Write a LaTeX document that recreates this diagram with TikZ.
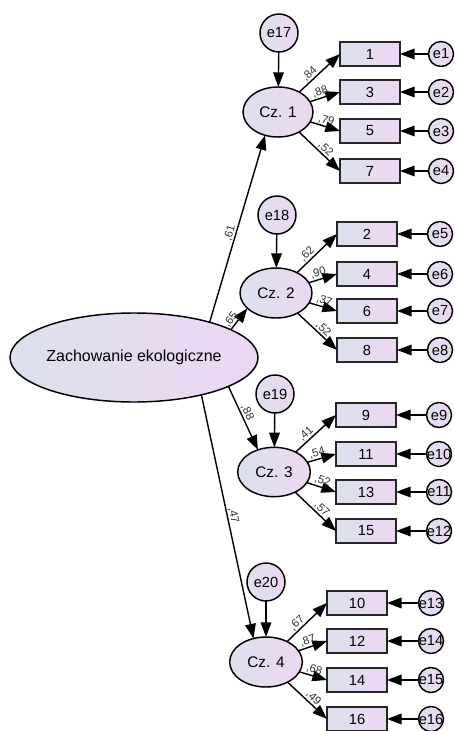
\documentclass[tikz,border=0pt]{standalone}
\usepackage{fontspec}
\setmainfont{Liberation Sans}
\usetikzlibrary{arrows.meta,shapes.geometric}
\definecolor{gl}{RGB}{220,225,238}
\definecolor{gr}{RGB}{238,214,243}
\begin{document}
\begin{tikzpicture}[x=0.75pt,y=-0.75pt,
  lat/.style={ellipse, draw, line width=1.1pt, left color=gl, right color=gr, inner sep=0pt, outer sep=0pt},
  obs/.style={rectangle, draw=black!85, line width=1.4pt, left color=gl, right color=gr, minimum width=45pt, minimum height=18pt, inner sep=0pt, outer sep=0pt, font=\fontsize{11}{11}\selectfont},
  err/.style={circle, draw, line width=1.1pt, left color=gl, right color=gr, minimum size=18.75pt, inner sep=0pt, outer sep=0pt, font=\fontsize{11}{11}\selectfont},
  dist/.style={circle, draw, line width=1.1pt, left color=gl, right color=gr, minimum size=28.5pt, inner sep=0pt, outer sep=0pt, font=\fontsize{11}{11}\selectfont},
  arr/.style={-{Triangle[length=11pt,width=8pt]}, line width=1.05pt},
  coef/.style={sloped, above, font=\fontsize{8.5}{8.5}\selectfont, text=black!80, inner sep=0.6pt}]
\useasboundingbox (0,0) rectangle (454,731);

% main latent
\node[lat, minimum width=186pt, minimum height=66.75pt, font=\fontsize{12}{12}\selectfont] (main) at (134,357.5) {Zachowanie ekologiczne};

% second-order latents
\node[lat, minimum width=52.5pt, minimum height=37.5pt, font=\fontsize{11.5}{11.5}\selectfont] (cz1) at (278,112) {Cz. 1};
\node[lat, minimum width=54pt, minimum height=37.5pt, font=\fontsize{11.5}{11.5}\selectfont] (cz2) at (276,293) {Cz. 2};
\node[lat, minimum width=54.5pt, minimum height=37pt, font=\fontsize{11.5}{11.5}\selectfont] (cz3) at (274,472) {Cz. 3};
\node[lat, minimum width=54.5pt, minimum height=37.5pt, font=\fontsize{11.5}{11.5}\selectfont] (cz4) at (266,662) {Cz. 4};

% disturbances
\node[dist] (e17) at (279,33) {e17};
\node[dist] (e18) at (277,215) {e18};
\node[dist] (e19) at (275,394) {e19};
\node[dist] (e20) at (266,582) {e20};

% group 1
\node[obs] (b1) at (370,54) {1};
\node[obs] (b3) at (370,92) {3};
\node[obs] (b5) at (370,131) {5};
\node[obs] (b7) at (370,171) {7};
\node[err] (e1) at (441,54) {\makebox[0pt]{e1}};
\node[err] (e2) at (441,92) {\makebox[0pt]{e2}};
\node[err] (e3) at (441,131) {\makebox[0pt]{e3}};
\node[err] (e4) at (441,171) {\makebox[0pt]{e4}};

% group 2
\node[obs] (b2) at (367,234) {2};
\node[obs] (b4) at (367,274) {4};
\node[obs] (b6) at (367,311) {6};
\node[obs] (b8) at (367,350) {8};
\node[err] (e5) at (440,234) {\makebox[0pt]{e5}};
\node[err] (e6) at (440,274) {\makebox[0pt]{e6}};
\node[err] (e7) at (440,311) {\makebox[0pt]{e7}};
\node[err] (e8) at (440,350) {\makebox[0pt]{e8}};

% group 3
\node[obs] (b9) at (366,415) {9};
\node[obs] (b11) at (366,454) {11};
\node[obs] (b13) at (366,492) {13};
\node[obs] (b15) at (366,531) {15};
\node[err] (e9) at (439,415) {\makebox[0pt]{e9}};
\node[err] (e10) at (439,454) {\makebox[0pt]{e10}};
\node[err] (e11) at (439,492) {\makebox[0pt]{e11}};
\node[err] (e12) at (439,531) {\makebox[0pt]{e12}};

% group 4
\node[obs] (b10) at (357,603) {10};
\node[obs] (b12) at (357,641) {12};
\node[obs] (b14) at (357,680) {14};
\node[obs] (b16) at (357,719) {16};
\node[err] (e13) at (431,603) {\makebox[0pt]{e13}};
\node[err] (e14) at (431,641) {\makebox[0pt]{e14}};
\node[err] (e15) at (431,680) {\makebox[0pt]{e15}};
\node[err] (e16) at (431,719) {\makebox[0pt]{e16}};

% main paths
\draw[arr] (main.25) -- node[coef, pos=0.47] {,61} (cz1.241.6);
\draw[arr] (main.16) -- node[coef, pos=0.3] {,65} (cz2.208);
\draw[arr] (main.-17) -- node[coef, pos=0.45] {,88} (cz3.126);
\draw[arr] (main.-29) -- node[coef, pos=0.5] {,47} (cz4.118);

% disturbance arrows
\draw[arr] (e17) -- (cz1);
\draw[arr] (e18) -- (cz2);
\draw[arr] (e19) -- (cz3);
\draw[arr] (e20) -- (cz4);

% loadings
\draw[arr] (cz1) -- node[coef, pos=0.36] {,84} (b1.west);
\draw[arr] (cz1) -- node[coef, pos=0.4] {,88} (b3.west);
\draw[arr] (cz1) -- node[coef, pos=0.48] {,79} (b5.west);
\draw[arr] (cz1) -- node[coef, pos=0.55] {,52} (b7.west);

\draw[arr] (cz2) -- node[coef, pos=0.36] {,62} (b2.west);
\draw[arr] (cz2) -- node[coef, pos=0.4] {,90} (b4.west);
\draw[arr] (cz2) -- node[coef, pos=0.48] {,37} (b6.west);
\draw[arr] (cz2) -- node[coef, pos=0.55] {,52} (b8.west);

\draw[arr] (cz3) -- node[coef, pos=0.36] {,41} (b9.west);
\draw[arr] (cz3) -- node[coef, pos=0.4] {,54} (b11.west);
\draw[arr] (cz3) -- node[coef, pos=0.48] {,52} (b13.west);
\draw[arr] (cz3) -- node[coef, pos=0.55] {,57} (b15.west);

\draw[arr] (cz4) -- node[coef, pos=0.36] {,67} (b10.west);
\draw[arr] (cz4) -- node[coef, pos=0.4] {,87} (b12.west);
\draw[arr] (cz4) -- node[coef, pos=0.48] {,68} (b14.west);
\draw[arr] (cz4) -- node[coef, pos=0.55] {,49} (b16.west);

% error arrows
\foreach \e/\b in {e1/b1,e2/b3,e3/b5,e4/b7,e5/b2,e6/b4,e7/b6,e8/b8,e9/b9,e10/b11,e11/b13,e12/b15,e13/b10,e14/b12,e15/b14,e16/b16}
  \draw[arr] (\e) -- (\b);
\end{tikzpicture}
\end{document}
